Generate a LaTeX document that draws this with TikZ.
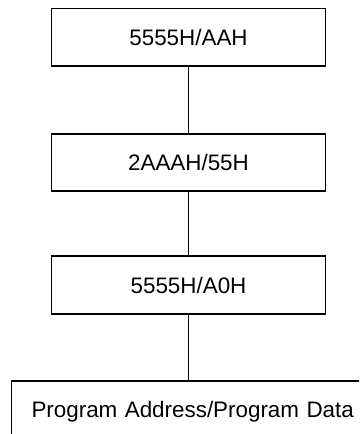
\documentclass[tikz,border=0pt]{standalone}
\usepackage{fontspec}
\setmainfont{Liberation Sans}
\usepackage{tikz}
\usetikzlibrary{positioning}

\begin{document}
\begin{tikzpicture}[x=1pt, y=1pt,
  cmdbox/.style={draw, line width=1.6pt, minimum width=274pt, minimum height=57.5pt, inner sep=0pt, font=\fontsize{22.4}{26}\selectfont},
  databox/.style={draw, line width=1.6pt, text width=380pt, align=left, inner xsep=20pt, inner ysep=0pt, minimum height=57.5pt, text depth=0pt, font=\fontsize{22.4}{26}\selectfont},
  link/.style={line width=0.9pt}
]
\useasboundingbox (0,0) rectangle (359,-434);
\clip (0,0) rectangle (359,-434);
\node[cmdbox] (c1) at (188.5,-37.2) {5555H/AAH};
\node[cmdbox] (c2) at (188.5,-162.5) {2AAAH/55H};
\node[cmdbox] (c3) at (188.5,-285) {5555H/A0H};
\node[databox, anchor=west] (pd) at (10.7,-409.8) {Program Address/Program Data};
\draw[link] (c1.south) -- (c2.north);
\draw[link] (c2.south) -- (c3.north);
\draw[link] (c3.south) -- (c3.south |- pd.north);
\end{tikzpicture}
\end{document}
